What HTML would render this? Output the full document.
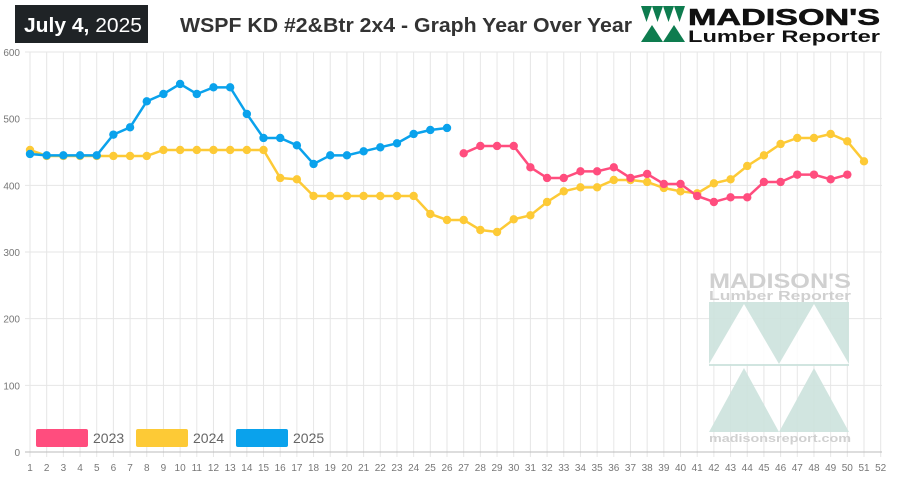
<!DOCTYPE html>
<html><head><meta charset="utf-8"><style>
body{margin:0;background:#fff;width:900px;height:485px;overflow:hidden;font-family:"Liberation Sans",sans-serif}
</style></head><body>
<svg id="c" width="900" height="485" xmlns="http://www.w3.org/2000/svg" font-family="Liberation Sans, sans-serif"></svg>
<script>
const s=document.getElementById('c');let h='';
const X=n=>30+(n-1)*16.68, Y=v=>452-v*0.6667;
for(let n=1;n<=52;n++){h+=`<line x1="${X(n)}" y1="52" x2="${X(n)}" y2="457" stroke="#e6e6e6"/>`;
h+=`<text x="${X(n)}" y="471" font-size="10" fill="#777" text-anchor="middle">${n}</text>`;}
for(let v=0;v<=600;v+=100){h+=`<line x1="25" y1="${Y(v)}" x2="882" y2="${Y(v)}" stroke="${v?'#e6e6e6':'#bbb'}"/>`;
h+=`<text x="20" y="${Y(v)+4}" font-size="10" fill="#777" text-anchor="end">${v}</text>`;}
h+=`<g opacity="0.9"><text x="709" y="288" font-size="21" font-weight="bold" fill="#ccc" textLength="142" lengthAdjust="spacingAndGlyphs">MADISON'S</text>
<text x="709" y="300" font-size="13" font-weight="bold" fill="#ccc" textLength="142" lengthAdjust="spacingAndGlyphs">Lumber Reporter</text>
<rect x="709" y="302" width="140" height="64" fill="#cde3dd"/>
<polygon points="709,364 744,304 779,364" fill="#fff"/><polygon points="779,364 814,304 849,364" fill="#fff"/>
<polygon points="709,432 744,368 779,432" fill="#cde3dd"/><polygon points="779,432 814,368 849,432" fill="#cde3dd"/>
<text x="709" y="442" font-size="11" font-weight="bold" fill="#ccc" textLength="142" lengthAdjust="spacingAndGlyphs">madisonsreport.com</text></g>`;
const d25=[447,445,445,445,445,476,487,526,537,552,537,547,547,507,471,471,460,432,445,445,451,457,463,477,483,486];
const d24=[453,444,444,444,444,444,444,444,453,453,453,453,453,453,453,411,409,384,384,384,384,384,384,384,357,348,348,333,330,349,355,375,391,397,397,408,408,405,396,391,388,403,409,429,445,462,471,471,477,466,436];
const d23=[448,459,459,459,427,411,411,421,421,427,411,417,402,402,384,375,382,382,405,405,416,416,409,416];
function ser(d,start,c){let p=d.map((v,i)=>`${X(start+i)},${Y(v)}`).join(' ');
h+=`<polyline points="${p}" fill="none" stroke="${c}" stroke-width="2.5"/>`;
d.forEach((v,i)=>h+=`<circle cx="${X(start+i)}" cy="${Y(v)}" r="4.2" fill="${c}"/>`);}
ser(d24,1,'#fdca36');ser(d23,27,'#ff4d7e');ser(d25,1,'#0aa2ec');
[['#ff4d7e','2023',36],['#fdca36','2024',136],['#0aa2ec','2025',236]].forEach(([c,t,x])=>{
h+=`<rect x="${x}" y="429" width="52" height="18" rx="2" fill="${c}"/><text x="${x+57}" y="443" font-size="14" fill="#666">${t}</text>`;});
h+=`<rect x="15" y="5" width="133" height="38" fill="#1f2326"/>
<text x="24" y="32" font-size="20" fill="#fff" textLength="118" lengthAdjust="spacingAndGlyphs"><tspan font-weight="bold">July 4,</tspan> 2025</text>
<text x="180" y="32" font-size="20" font-weight="bold" fill="#333" textLength="452" lengthAdjust="spacingAndGlyphs">WSPF KD #2&amp;Btr 2x4 - Graph Year Over Year</text>
<g fill="#0e7c4f"><polygon points="641,6 652,6 646.5,22"/><polygon points="652,6 663,6 657.5,22"/><polygon points="663,6 674,6 668.5,22"/><polygon points="674,6 685,6 679.5,22"/>
<polygon points="641,42 663,42 652,25"/><polygon points="663,42 685,42 674,25"/></g>
<text x="688" y="25" font-size="23" font-weight="900" fill="#111" textLength="192" lengthAdjust="spacingAndGlyphs" stroke="#111" stroke-width="0.6">MADISON'S</text>
<text x="688" y="42" font-size="17" font-weight="bold" fill="#111" textLength="192" lengthAdjust="spacingAndGlyphs">Lumber Reporter</text>`;
s.innerHTML=h;
</script>
</body></html>
